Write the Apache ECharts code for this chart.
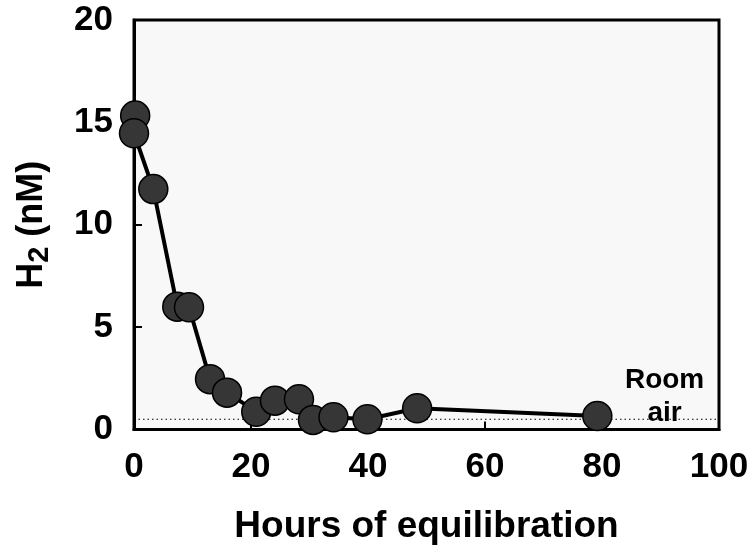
<!DOCTYPE html>
<html>
<head>
<meta charset="utf-8">
<script src="https://cdn.jsdelivr.net/npm/echarts@6/dist/echarts.min.js"></script>
<style>
html,body{margin:0;padding:0;background:#fff;}
#chart{width:753px;height:555px;}
</style>
</head>
<body>
<div id="chart"></div>
<script>
// Data
var hours = [0.2, 0, 3.3, 7.4, 9.4, 13.0, 15.9, 20.9, 24.1, 28.2, 30.6, 34.1, 39.9, 48.4, 79.2];
var h2nM  = [15.33, 14.47, 11.74, 6.0, 5.97, 2.46, 1.80, 0.87, 1.41, 1.48, 0.47, 0.60, 0.50, 1.04, 0.66];
var roomAirLevel = 0.5;
var roomAirX = [0, 100];
var roomLabelPos = [90.7, 1.6];
var xTicks = [0, 20, 40, 60, 80, 100];
var yTicks = [0, 5, 10, 15, 20];

var FONT = '"Liberation Sans", Arial, sans-serif';
var seriesData = hours.map(function (h, i) { return [h, h2nM[i]]; });
var roomLine = roomAirX.map(function (x) { return [x, roomAirLevel]; });

var chart = echarts.init(document.getElementById('chart'), null, {renderer: 'canvas'});
chart.setOption({
  animation: false,
  backgroundColor: '#ffffff',
  grid: {
    left: 134, right: 34, top: 20, bottom: 125.5,
    show: true, backgroundColor: '#f8f8f8', borderColor: '#000', borderWidth: 3
  },
  xAxis: {
    type: 'value', min: xTicks[0], max: xTicks[xTicks.length - 1], interval: 20,
    name: 'Hours of equilibration', nameLocation: 'middle', nameGap: 79,
    nameTextStyle: {fontFamily: FONT, fontWeight: 'bold', fontSize: 37, color: '#000'},
    axisLine: {show: true, lineStyle: {color: '#000', width: 3}},
    axisTick: {show: true, inside: true, length: 8, lineStyle: {color: '#000', width: 2}},
    axisLabel: {fontFamily: FONT, fontWeight: 'bold', fontSize: 35, color: '#000', margin: 20},
    splitLine: {show: false}
  },
  yAxis: {
    type: 'value', min: yTicks[0], max: yTicks[yTicks.length - 1], interval: 5,
    name: '{a|H}{b|2}{a| (nM)}', nameLocation: 'middle', nameGap: 80, nameRotate: 90,
    nameTextStyle: {
      fontFamily: FONT, fontWeight: 'bold', fontSize: 36, color: '#000',
      rich: {
        a: {fontFamily: FONT, fontWeight: 'bold', fontSize: 36, color: '#000'},
        b: {fontFamily: FONT, fontWeight: 'bold', fontSize: 29, color: '#000', padding: [14, 0, 0, 0]}
      }
    },
    axisLine: {show: true, lineStyle: {color: '#000', width: 3}},
    axisTick: {show: true, inside: true, length: 8, lineStyle: {color: '#000', width: 2}},
    axisLabel: {fontFamily: FONT, fontWeight: 'bold', fontSize: 35, color: '#000', margin: 21},
    splitLine: {show: false}
  },
  series: [
    {
      type: 'line', data: roomLine, symbol: 'none', z: 1, silent: true,
      lineStyle: {color: '#000', width: 1.2, type: [1.5, 3]}
    },
    {
      type: 'line', data: seriesData, z: 3,
      symbol: 'circle', symbolSize: 29,
      lineStyle: {color: '#000', width: 4},
      itemStyle: {color: '#363636', borderColor: '#000', borderWidth: 1.5}
    },
    {
      type: 'scatter', data: [roomLabelPos], symbolSize: 0, z: 5, silent: true,
      itemStyle: {opacity: 1},
      label: {
        show: true, position: 'inside', formatter: 'Room\nair',
        fontFamily: FONT, fontWeight: 'bold', fontSize: 28, lineHeight: 33, color: '#000'
      }
    }
  ]
});
</script>
</body>
</html>
